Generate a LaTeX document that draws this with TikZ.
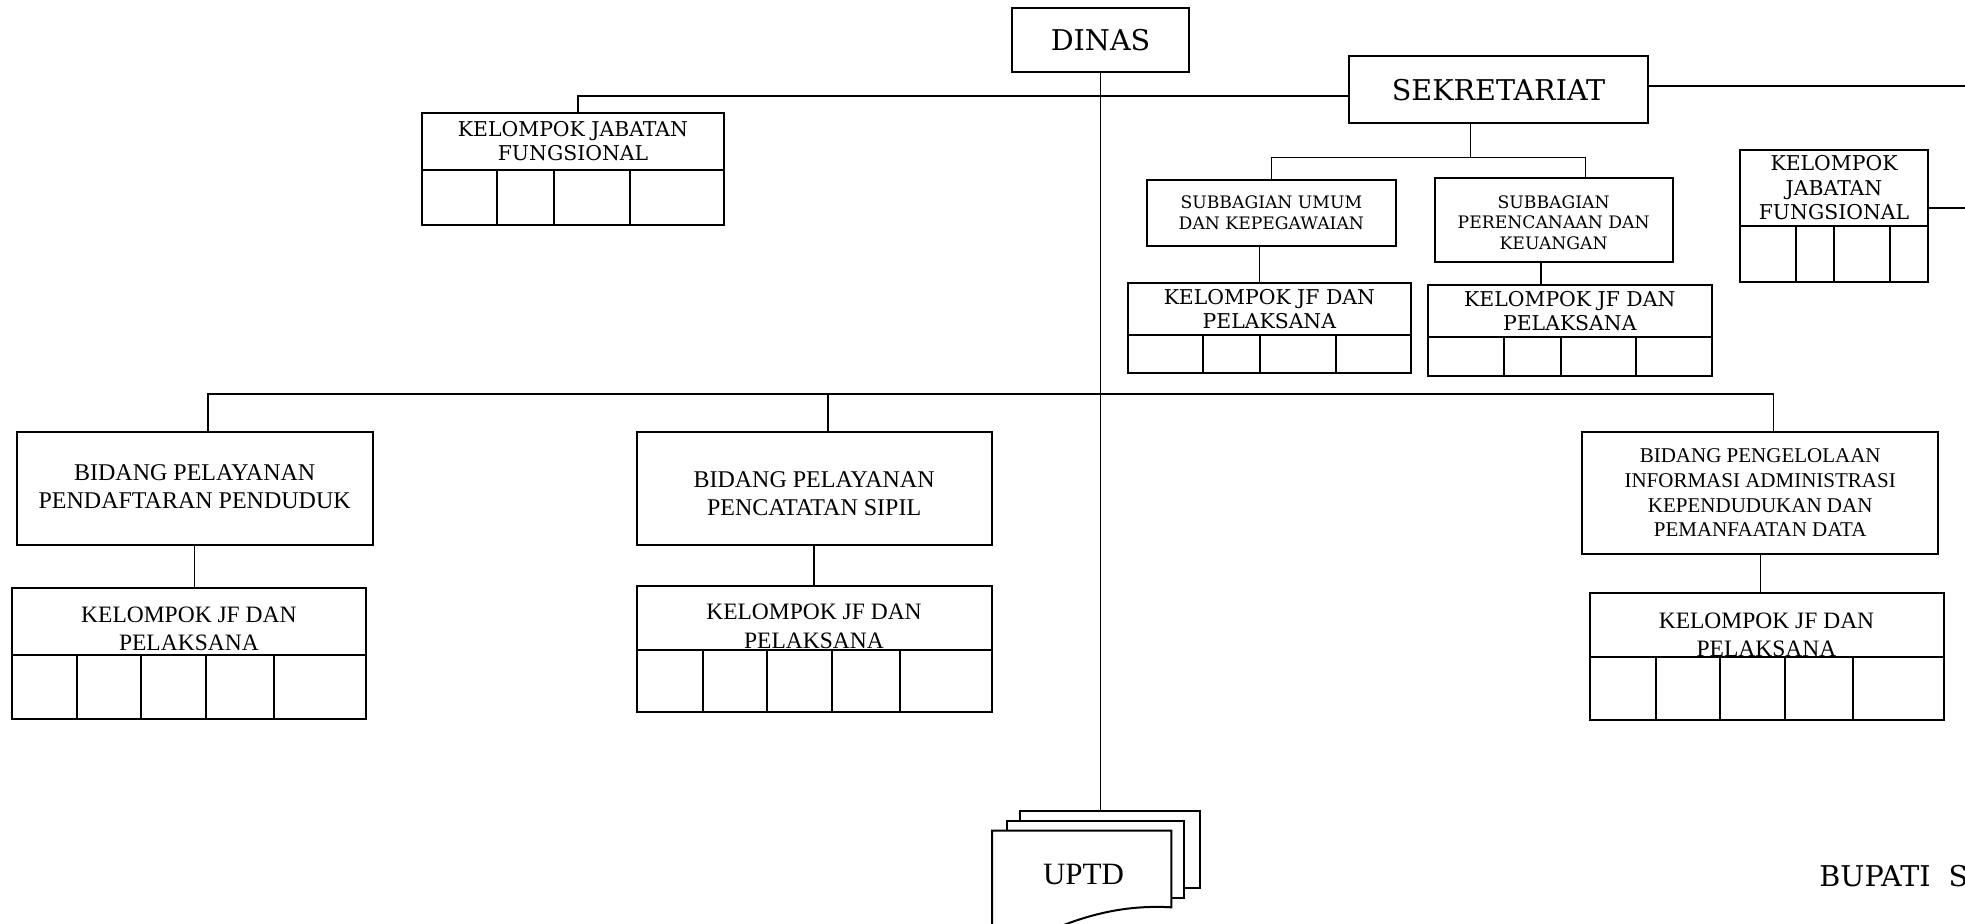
\documentclass[tikz,border=0pt]{standalone}
\usepackage{fontspec}
\setmainfont{DejaVu Serif}
\newfontfamily\tnr{Liberation Serif}
\usetikzlibrary{fit,calc}

\tikzset{
  box/.style={draw, line width=1pt, inner sep=0pt},
  txt/.style={inner sep=0pt, align=center},
  cellline/.style={line width=1pt},
  link/.style={line width=0.7pt},
  bigtxt/.style={txt, font=\fontsize{14.3}{17}\selectfont},
  jftxt/.style={txt, font=\fontsize{10.2}{12.15}\selectfont},
  subtxt/.style={txt, font=\fontsize{8.6}{10.35}\selectfont},
  bidtxt/.style={txt, font=\tnr\fontsize{12}{14.15}\selectfont},
  bidsmall/.style={txt, font=\tnr\fontsize{10.5}{12.35}\selectfont},
  kjtxt/.style={txt, font=\tnr\fontsize{11.75}{14.15}\selectfont},
}

\begin{document}
\begin{tikzpicture}[x=0.5pt,y=-0.5pt]
\useasboundingbox (0,0) rectangle (1965,923);
\clip (0,0) rectangle (1965,923);

%Shape: Rectangle
\node[box,fit={(1012,7.5) (1189,72)}] (dinas) {};
\node[bigtxt] (dinastxt) at (dinas) {DINAS};
%Shape: Rectangle
\node[box,fit={(1349.3,56) (1647.7,123.3)}] (sek) {};
\node[bigtxt] (sektxt) at (sek) {SEKRETARIAT};

%Shape: Rectangle
\node[box,fit={(421.7,112.7) (724.3,170)}] (jfa) {};
\node[box,fit={(421.7,170) (724.3,225)}] (jfarow) {};
\draw[cellline] (497.3,170) -- (497.3,225) (554,170) -- (554,225) (630,170) -- (630,225);
% Text Node
\node[jftxt] (jfatxt) at (jfa) {KELOMPOK JABATAN\\FUNGSIONAL};

%Shape: Rectangle
\node[box,fit={(1146.7,180) (1396,246)}] (sub1) {};
\node[subtxt] (sub1txt) at (sub1) {SUBBAGIAN UMUM\\DAN KEPEGAWAIAN};
%Shape: Rectangle
\node[box,fit={(1434.6,177.7) (1672.7,261.7)}] (sub2) {};
\node[subtxt] (sub2txt) at ($(sub2)+(0,3)$) {SUBBAGIAN\\PERENCANAAN DAN\\KEUANGAN};

%Shape: Rectangle
\node[box,fit={(1127.7,283.3) (1411,335)}] (jfb) {};
\node[box,fit={(1127.7,335) (1411,373.3)}] (jfbrow) {};
\draw[cellline] (1202.7,335) -- (1202.7,373.3) (1260,335) -- (1260,373.3) (1336,335) -- (1336,373.3);
% Text Node
\node[jftxt] (jfbtxt) at (jfb) {KELOMPOK JF DAN\\PELAKSANA};

%Shape: Rectangle
\node[box,fit={(1427.6,285) (1712,336.7)}] (jfc) {};
\node[box,fit={(1427.6,336.7) (1712,376)}] (jfcrow) {};
\draw[cellline] (1504,336.7) -- (1504,376) (1561,336.7) -- (1561,376) (1636.2,336.7) -- (1636.2,376);
% Text Node
\node[jftxt] (jfctxt) at (jfc) {KELOMPOK JF DAN\\PELAKSANA};

%Shape: Rectangle
\node[box,fit={(1739.8,150) (1928.2,225.7)}] (jfd) {};
\node[box,fit={(1739.8,225.7) (1928.2,281.7)}] (jfdrow) {};
\draw[cellline] (1796,225.7) -- (1796,281.7) (1833.6,225.7) -- (1833.6,281.7) (1890,225.7) -- (1890,281.7);
% Text Node
\node[jftxt] (jfdtxt) at (jfd) {KELOMPOK\\JABATAN\\FUNGSIONAL};

%Shape: Rectangle
\node[box,fit={(16.7,431.7) (372.7,545)}] (ba) {};
\node[bidtxt] (batxt) at ($(ba)+(0,-2)$) {BIDANG PELAYANAN\\PENDAFTARAN PENDUDUK};
\node[box,fit={(636.5,431.7) (991.7,545)}] (bb) {};
\node[bidtxt] (bbtxt) at ($(bb)+(0,5)$) {BIDANG PELAYANAN\\PENCATATAN SIPIL};
\node[box,fit={(1582.4,431.7) (1938,554)}] (bc) {};
\node[bidsmall] (bctxt) at (bc) {BIDANG PENGELOLAAN\\INFORMASI ADMINISTRASI\\KEPENDUDUKAN DAN\\PEMANFAATAN DATA};

%Shape: Rectangle
\node[box,fit={(11.7,588.3) (366,655)}] (ka) {};
\node[box,fit={(11.7,655) (366,719)}] (karow) {};
\draw[cellline] (77.3,655) -- (77.3,719) (140.7,655) -- (140.7,719) (206,655) -- (206,719) (274,655) -- (274,719);
% Text Node
\node[kjtxt] (katxt) at (188.9,628.7) {KELOMPOK JF DAN\\PELAKSANA};

%Shape: Rectangle
\node[box,fit={(636.5,586) (991.7,650)}] (kb) {};
\node[box,fit={(636.5,650) (991.7,711.7)}] (kbrow) {};
\draw[cellline] (703.4,650) -- (703.4,711.7) (767.2,650) -- (767.2,711.7) (832.3,650) -- (832.3,711.7) (899.9,650) -- (899.9,711.7);
% Text Node
\node[kjtxt] (kbtxt) at (814,626.2) {KELOMPOK JF DAN\\PELAKSANA};

%Shape: Rectangle
\node[box,fit={(1589.5,593.3) (1943.5,657.3)}] (kc) {};
\node[box,fit={(1589.5,657.3) (1943.5,720)}] (kcrow) {};
\draw[cellline] (1655.5,657.3) -- (1655.5,720) (1720.2,657.3) -- (1720.2,720) (1785,657.3) -- (1785,720) (1852.9,657.3) -- (1852.9,720);
% Text Node
\node[kjtxt] (kctxt) at (1766.5,634.7) {KELOMPOK JF DAN\\PELAKSANA};

%Shape: Multidocument
\node[box,fill=white,fit={(1020,810.7) (1200,888.3)}] (uptdc) {};
\node[box,fill=white,fit={(1006.7,820.7) (1184.3,898.3)}] (uptdb) {};
\draw[cellline,fill=white] (992,945) -- (992,830.7) -- (1171.3,830.7) -- (1171.3,907.3) .. controls (1130,905) and (1090,912) .. (1040,935) -- (1020,945) -- cycle;
% Text Node
\node[txt,font=\tnr\fontsize{15.5}{18}\selectfont] (uptd) at (1083.5,874) {UPTD};

% Text Node
\node[anchor=base west,inner sep=0pt,font=\fontsize{14.3}{17}\selectfont] (bupati) at (1819,886.7) {BUPATI\hspace{9pt}S};

%Straight Lines
\draw[line width=0.5pt] (dinas.south) -- (dinas.south |- uptdc.north);
\draw[link] ($(sek.west)+(0,6.3)$) -| ($(jfa.north)+(5,0)$);
\draw[link] ($(sek.east)+(0,-3.6)$) -- ++(400,0);
\draw[link] ($(jfd.east)+(0,20)$) -- ++(100,0);

\coordinate (sekfork) at (1470.7,157.3);
\draw[link] (sekfork |- sek.south) -- (sekfork);
\draw[link] (sub1.north) |- (sekfork) -| ($(sub2.north)+(32,0)$);
\path ($(sub1.south)+(-12,0)$) coordinate (s1d) ($(sub2.south)+(-12.7,0)$) coordinate (s2d);
\draw[link] (s1d) -- (s1d |- jfb.north);
\draw[link] (s2d) -- (s2d |- jfc.north);

\coordinate (bus) at (0,394);
\path ($(ba.north)+(13.3,0)$) coordinate (dA) ($(bb.north)+(13.7,0)$) coordinate (dB) ($(bc.north)+(13.1,0)$) coordinate (dC);
\draw[link] (dA) -- (dA |- bus) -- (dC |- bus) -- (dC);
\draw[link] (dB) -- (dB |- bus);
\draw[link] (ba.south) -- (ba.south |- ka.north);
\draw[link] (bb.south) -- (bb.south |- kb.north);
\draw[link] (bc.south) -- (bc.south |- kc.north);
\end{tikzpicture}
\end{document}
